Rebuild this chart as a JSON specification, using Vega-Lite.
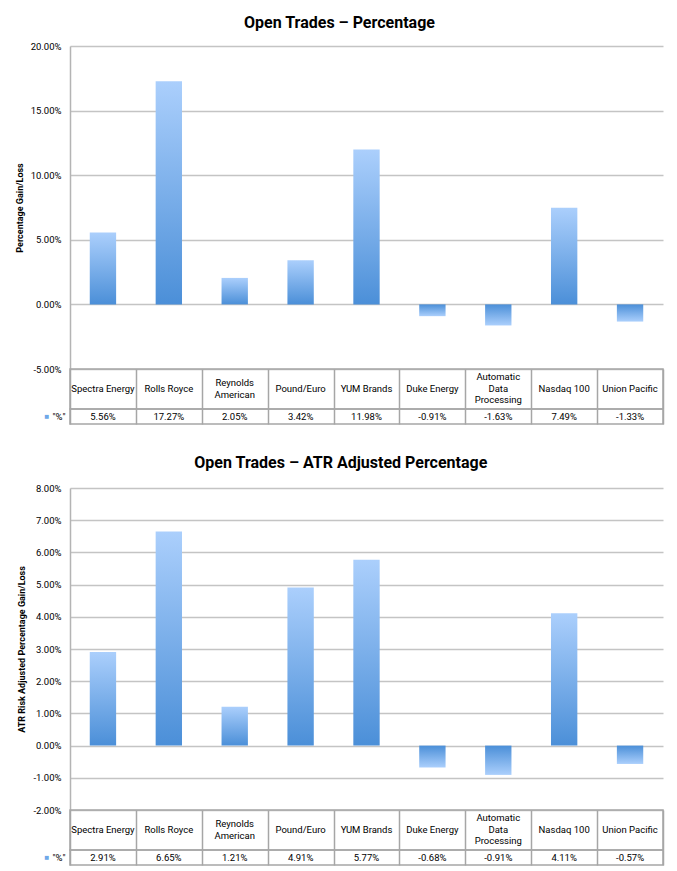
{
  "$schema": "https://vega.github.io/schema/vega-lite/v6.json",
  "background": "white",
  "padding": {"left": 15, "top": 15, "right": 6, "bottom": 4},
  "datasets": {
    "pct": [
      {"name": "Spectra Energy", "lines": ["Spectra Energy"], "v": 0.0556, "series": "\"%\""},
      {"name": "Rolls Royce", "lines": ["Rolls Royce"], "v": 0.1727, "series": "\"%\""},
      {"name": "Reynolds American", "lines": ["Reynolds", "American"], "v": 0.0205, "series": "\"%\""},
      {"name": "Pound/Euro", "lines": ["Pound/Euro"], "v": 0.0342, "series": "\"%\""},
      {"name": "YUM Brands", "lines": ["YUM Brands"], "v": 0.1198, "series": "\"%\""},
      {"name": "Duke Energy", "lines": ["Duke Energy"], "v": -0.0091, "series": "\"%\""},
      {"name": "Automatic Data Processing", "lines": ["Automatic", "Data", "Processing"], "v": -0.0163, "series": "\"%\""},
      {"name": "Nasdaq 100", "lines": ["Nasdaq 100"], "v": 0.0749, "series": "\"%\""},
      {"name": "Union Pacific", "lines": ["Union Pacific"], "v": -0.0133, "series": "\"%\""}
    ],
    "atr": [
      {"name": "Spectra Energy", "lines": ["Spectra Energy"], "v": 0.0291, "series": "\"%\""},
      {"name": "Rolls Royce", "lines": ["Rolls Royce"], "v": 0.0665, "series": "\"%\""},
      {"name": "Reynolds American", "lines": ["Reynolds", "American"], "v": 0.0121, "series": "\"%\""},
      {"name": "Pound/Euro", "lines": ["Pound/Euro"], "v": 0.0491, "series": "\"%\""},
      {"name": "YUM Brands", "lines": ["YUM Brands"], "v": 0.0577, "series": "\"%\""},
      {"name": "Duke Energy", "lines": ["Duke Energy"], "v": -0.0068, "series": "\"%\""},
      {"name": "Automatic Data Processing", "lines": ["Automatic", "Data", "Processing"], "v": -0.0091, "series": "\"%\""},
      {"name": "Nasdaq 100", "lines": ["Nasdaq 100"], "v": 0.0411, "series": "\"%\""},
      {"name": "Union Pacific", "lines": ["Union Pacific"], "v": -0.0057, "series": "\"%\""}
    ]
  },
  "spacing": 30,
  "vconcat": [
    {
      "title": {"text": "Open Trades – Percentage", "fontSize": 16, "fontWeight": "bold", "anchor": "middle", "frame": "bounds", "offset": 10},
      "spacing": 0,
      "bounds": "flush",
      "vconcat": [
        {
          "data": {"name": "pct"},
          "width": 593,
          "height": 323,
          "mark": {"type": "bar"},
          "encoding": {
            "x": {"field": "name", "type": "nominal", "sort": null, "axis": null, "scale": {"paddingInner": 0.6, "paddingOuter": 0.3}},
            "y": {
              "field": "v", "type": "quantitative",
              "scale": {"domain": [-0.05, 0.2], "nice": false},
              "axis": {"values": [-0.05, 0, 0.05, 0.1, 0.15, 0.2], "format": ".2%", "title": "Percentage Gain/Loss", "titleFontSize": 9, "titleFontWeight": "bold", "titlePadding": 6, "grid": true, "gridColor": "#c4c4c4", "gridWidth": 1.5, "domainColor": "#b4b4b4", "domainWidth": 1.5, "ticks": false, "labelPadding": 9}
            },
            "fill": {
              "condition": {"test": "datum.v < 0", "value": {"gradient": "linear", "x1": 0, "y1": 0, "x2": 0, "y2": 1, "stops": [{"offset": 0, "color": "#4b8fd8"}, {"offset": 1, "color": "#abcffc"}]}},
              "value": {"gradient": "linear", "x1": 0, "y1": 0, "x2": 0, "y2": 1, "stops": [{"offset": 0, "color": "#abcffc"}, {"offset": 1, "color": "#4b8fd8"}]}
            }
          }
        },
        {
          "data": {"name": "pct"},
          "width": 593,
          "height": 40,
          "view": {"stroke": "#a6a6a6", "strokeWidth": 1.5},
          "mark": {"type": "text", "fontSize": 9.5, "lineHeight": 11.5, "baseline": "middle"},
          "encoding": {
            "x": {"field": "name", "type": "nominal", "sort": null, "scale": {"paddingInner": 0, "paddingOuter": 0}, "axis": {"title": null, "labels": false, "ticks": false, "domain": false, "grid": true, "tickBand": "extent", "gridColor": "#a6a6a6", "gridWidth": 1.5, "minExtent": 0, "maxExtent": 0}},
            "y": {"field": "lines.length", "type": "quantitative", "scale": {"domain": [-2.478, 4.478]}, "axis": null},
            "text": {"field": "lines"}
          }
        },
        {
          "data": {"name": "pct"},
          "width": 593,
          "height": 15,
          "view": {"stroke": "#a6a6a6", "strokeWidth": 1.5},
          "mark": {"type": "text", "fontSize": 9.5},
          "encoding": {
            "x": {"field": "name", "type": "nominal", "sort": null, "scale": {"paddingInner": 0, "paddingOuter": 0}, "axis": {"title": null, "labels": false, "ticks": false, "domain": false, "grid": true, "tickBand": "extent", "gridColor": "#a6a6a6", "gridWidth": 1.5, "minExtent": 0, "maxExtent": 0}},
            "y": {"field": "series", "type": "nominal", "axis": {"title": "■", "titleAngle": 0, "titleColor": "#6fa8e8", "titleFontSize": 8, "titleFontWeight": "normal", "titlePadding": 3, "titleAlign": "right", "titleBaseline": "middle", "ticks": false, "domain": false, "labelPadding": 5}},
            "text": {"field": "v", "format": ".2%"}
          }
        }
      ]
    },
    {
      "title": {"text": "Open Trades – ATR Adjusted Percentage", "fontSize": 16, "fontWeight": "bold", "anchor": "middle", "frame": "bounds", "offset": 12},
      "spacing": 0,
      "bounds": "flush",
      "vconcat": [
        {
          "data": {"name": "atr"},
          "width": 593,
          "height": 322,
          "mark": {"type": "bar"},
          "encoding": {
            "x": {"field": "name", "type": "nominal", "sort": null, "axis": null, "scale": {"paddingInner": 0.6, "paddingOuter": 0.3}},
            "y": {
              "field": "v", "type": "quantitative",
              "scale": {"domain": [-0.02, 0.08], "nice": false},
              "axis": {"values": [-0.02, -0.01, 0, 0.01, 0.02, 0.03, 0.04, 0.05, 0.06, 0.07, 0.08], "format": ".2%", "title": "ATR Risk Adjusted Percentage Gain/Loss", "titleFontSize": 9, "titleFontWeight": "bold", "titlePadding": 6, "grid": true, "gridColor": "#c4c4c4", "gridWidth": 1.5, "domainColor": "#b4b4b4", "domainWidth": 1.5, "ticks": false, "labelPadding": 9}
            },
            "fill": {
              "condition": {"test": "datum.v < 0", "value": {"gradient": "linear", "x1": 0, "y1": 0, "x2": 0, "y2": 1, "stops": [{"offset": 0, "color": "#4b8fd8"}, {"offset": 1, "color": "#abcffc"}]}},
              "value": {"gradient": "linear", "x1": 0, "y1": 0, "x2": 0, "y2": 1, "stops": [{"offset": 0, "color": "#abcffc"}, {"offset": 1, "color": "#4b8fd8"}]}
            }
          }
        },
        {
          "data": {"name": "atr"},
          "width": 593,
          "height": 40,
          "view": {"stroke": "#a6a6a6", "strokeWidth": 1.5},
          "mark": {"type": "text", "fontSize": 9.5, "lineHeight": 11.5, "baseline": "middle"},
          "encoding": {
            "x": {"field": "name", "type": "nominal", "sort": null, "scale": {"paddingInner": 0, "paddingOuter": 0}, "axis": {"title": null, "labels": false, "ticks": false, "domain": false, "grid": true, "tickBand": "extent", "gridColor": "#a6a6a6", "gridWidth": 1.5, "minExtent": 0, "maxExtent": 0}},
            "y": {"field": "lines.length", "type": "quantitative", "scale": {"domain": [-2.478, 4.478]}, "axis": null},
            "text": {"field": "lines"}
          }
        },
        {
          "data": {"name": "atr"},
          "width": 593,
          "height": 15,
          "view": {"stroke": "#a6a6a6", "strokeWidth": 1.5},
          "mark": {"type": "text", "fontSize": 9.5},
          "encoding": {
            "x": {"field": "name", "type": "nominal", "sort": null, "scale": {"paddingInner": 0, "paddingOuter": 0}, "axis": {"title": null, "labels": false, "ticks": false, "domain": false, "grid": true, "tickBand": "extent", "gridColor": "#a6a6a6", "gridWidth": 1.5, "minExtent": 0, "maxExtent": 0}},
            "y": {"field": "series", "type": "nominal", "axis": {"title": "■", "titleAngle": 0, "titleColor": "#6fa8e8", "titleFontSize": 8, "titleFontWeight": "normal", "titlePadding": 3, "titleAlign": "right", "titleBaseline": "middle", "ticks": false, "domain": false, "labelPadding": 5}},
            "text": {"field": "v", "format": ".2%"}
          }
        }
      ]
    }
  ],
  "config": {
    "font": "Roboto",
    "view": {"stroke": null},
    "locale": {"number": {"decimal": ".", "thousands": ",", "grouping": [3], "currency": ["$", ""], "minus": "-"}},
    "axis": {"labelFontSize": 9.5, "labelColor": "black", "titleColor": "black"},
    "title": {"color": "black"}
  }
}
